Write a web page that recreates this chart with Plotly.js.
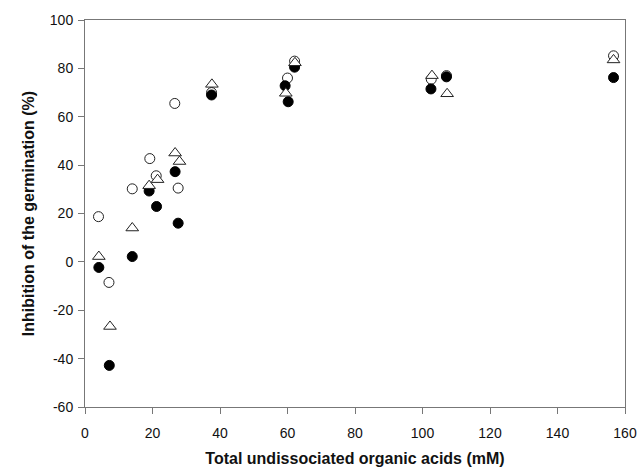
<!DOCTYPE html>
<html>
<head>
<meta charset="utf-8">
<script src="https://cdn.plot.ly/plotly-3.0.1.min.js"></script>
<style>html,body{margin:0;padding:0;background:#fff;}#chart{width:638px;height:472px;}</style>
</head>
<body>
<div id="chart"></div>
<script>
// Filled circles
const filledX = [4.1, 7.2, 14, 19, 21.2, 26.7, 27.6, 37.5, 59.3, 60.2, 62.1, 102.5, 107.1, 156.6];
const filledY = [-2.3, -42.8, 2.2, 29.3, 22.9, 37.3, 16, 69, 72.8, 66.2, 80.5, 71.5, 76.5, 76.2];
// Open triangles
const triX = [4.1, 7.4, 14, 19, 21.5, 26.7, 28, 37.6, 59.5, 62.2, 102.8, 107.3, 156.6];
const triY = [2.2, -26.7, 14, 31.5, 34, 45, 41.5, 73.4, 69.7, 82.3, 77, 69.5, 83.5];
// Open circles
const openX = [4, 7.1, 14, 19.2, 21.1, 26.6, 27.6, 37.5, 60, 62.1, 102.6, 107.1, 156.6];
const openY = [18.7, -8.5, 30.2, 42.7, 35.6, 65.5, 30.5, 70, 76, 83, 75.5, 77, 85.2];

const xTicks = [0, 20, 40, 60, 80, 100, 120, 140, 160];
const yTicks = [-60, -40, -20, 0, 20, 40, 60, 80, 100];

const FONT = 'Liberation Sans, Arial, sans-serif';

const traces = [
  {x: openX, y: openY, type: 'scatter', mode: 'markers',
   marker: {symbol: 'circle', size: 10, color: '#fff', line: {color: '#222', width: 1}}},
  {x: filledX, y: filledY, type: 'scatter', mode: 'markers',
   marker: {symbol: 'circle', size: 10, color: '#000', line: {color: '#000', width: 1}}},
  {x: triX, y: triY, type: 'scatter', mode: 'markers',
   marker: {symbol: 'triangle-up', size: 11, color: '#fff', line: {color: '#222', width: 1}}}
];

const axisCommon = {
  showgrid: false, zeroline: false, showline: true, linecolor: '#777', linewidth: 1,
  mirror: true, ticks: 'outside', ticklen: 6, tickcolor: '#777', tickwidth: 1,
  tickfont: {family: FONT, size: 14, color: '#111'}
};

const layout = {
  width: 638, height: 472,
  margin: {l: 85, r: 13, t: 20, b: 65},
  showlegend: false,
  paper_bgcolor: '#fff', plot_bgcolor: '#fff',
  xaxis: Object.assign({}, axisCommon, {
    range: [0, 160], tickvals: xTicks, ticktext: xTicks.map(String),
    ticklabelstandoff: 7,
    title: {text: '<b>Total undissociated organic acids (mM)</b>', standoff: 13,
      font: {family: FONT, size: 16, color: '#111'}}
  }),
  yaxis: Object.assign({}, axisCommon, {
    range: [-60, 100], tickvals: yTicks, ticktext: yTicks.map(String),
    ticklabelstandoff: 2,
    title: {text: '<b>Inhibition of the germination (%)</b>', standoff: 11,
      font: {family: FONT, size: 16, color: '#111'}}
  })
};

Plotly.newPlot('chart', traces, layout, {staticPlot: true, displayModeBar: false});
</script>
</body>
</html>
